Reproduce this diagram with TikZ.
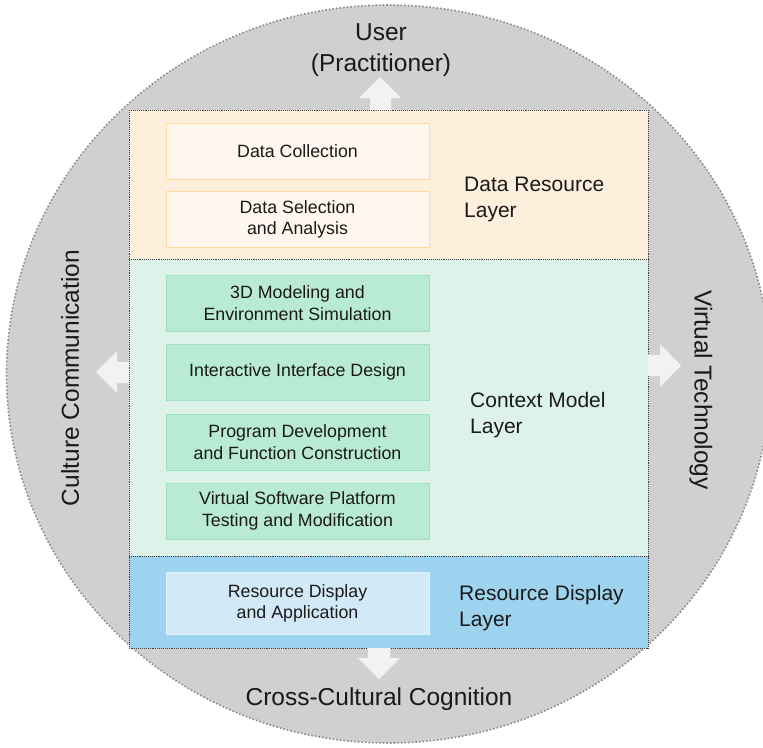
\documentclass[tikz,border=0pt]{standalone}
\usepackage{fontspec}
\setmainfont{Liberation Sans}
\begin{document}
\definecolor{ringgray}{HTML}{D0D0D0}
\definecolor{ringedge}{HTML}{8C8C8C}
\definecolor{arrowfill}{HTML}{F2F2F2}
\definecolor{datalayer}{HTML}{FEEFDC}
\definecolor{databox}{HTML}{FFF7EE}
\definecolor{dataedge}{HTML}{FFD9A0}
\definecolor{ctxlayer}{HTML}{DDF3EA}
\definecolor{ctxbox}{HTML}{B8EAD4}
\definecolor{ctxedge}{HTML}{9EE0C4}
\definecolor{displayer}{HTML}{9DD3EE}
\definecolor{dispbox}{HTML}{D2EAF8}
\definecolor{dispedge}{HTML}{E2F1FA}
\definecolor{inktext}{HTML}{1A1A1A}
\begin{tikzpicture}[x=1pt,y=-1pt,
  outerlabel/.style={font=\fontsize{24.5}{30.5}\selectfont, text=inktext, align=center, inner sep=0pt},
  layerlabel/.style={font=\fontsize{21}{26}\selectfont, text=inktext, align=left, anchor=west, inner sep=0pt},
  itembox/.style={minimum width=263pt, minimum height=56pt, inner sep=0pt, align=center,
     font=\fontsize{17.8}{21.7}\selectfont, text=inktext, line width=1pt},
  layerbox/.style={draw=black!75, densely dotted, line width=0.9pt},
  blockarrow/.style={fill=arrowfill, draw=none}]
\useasboundingbox (0,0) rectangle (763,747);
\begin{scope}
\clip (0,0) rectangle (763,747);
% outer ring
\fill[ringgray] (388.5,374) ellipse [x radius=382, y radius=369];
\draw[ringedge, dotted, line width=1.6pt] (388.5,374) ellipse [x radius=382, y radius=369];
\end{scope}

% layers
\fill[datalayer] (129,110) rectangle (648,259);
\fill[ctxlayer] (129,259) rectangle (648,556);
\fill[displayer] (129,556) rectangle (648,648);
\draw[layerbox] (129,110) rectangle (648,648);
\draw[layerbox] (129,259) -- (648,259);
\draw[layerbox] (129,556) -- (648,556);

% block arrows
\fill[blockarrow] (370,110) -- (370,98) -- (359,98) -- (380,77) -- (401,98) -- (391,98) -- (391,110) -- cycle;
\fill[blockarrow] (368,648) -- (368,658) -- (358,658) -- (379,679) -- (400,658) -- (390,658) -- (390,648) -- cycle;
\fill[blockarrow] (129,362) -- (117,362) -- (117,351) -- (96,372) -- (117,393) -- (117,383) -- (129,383) -- cycle;
\fill[blockarrow] (648,355) -- (660,355) -- (660,344) -- (681,365.5) -- (660,387) -- (660,376) -- (648,376) -- cycle;

% outer labels
\node[outerlabel] (user) at (381,50) {User\\(Practitioner)};
\node[outerlabel] (cognition) at (379,699) {Cross-Cultural Cognition};
\node[outerlabel, rotate=90] (culture) at (70,378) {Culture Communication};
\node[outerlabel, rotate=-90] (virtual) at (701,390) {Virtual Technology};

% data resource layer
\node[itembox, fill=databox, draw=dataedge] (collect) at (297.5,151.5) {Data Collection};
\node[itembox, fill=databox, draw=dataedge] (select) at (297.5,219.5) {Data Selection\\and Analysis};
\node[layerlabel] (datalbl) at (464,199) {Data Resource\\Layer};

% context model layer
\node[itembox, fill=ctxbox, draw=ctxedge] (model) at (297.5,303) {3D Modeling and\\Environment Simulation};
\node[itembox, fill=ctxbox, draw=ctxedge] (iface) at (297.5,372) {Interactive Interface Design};
\node[itembox, fill=ctxbox, draw=ctxedge] (prog) at (297.5,442) {Program Development\\and Function Construction};
\node[itembox, fill=ctxbox, draw=ctxedge] (test) at (297.5,511) {Virtual Software Platform\\Testing and Modification};
\node[layerlabel] (ctxlbl) at (470,415) {Context Model\\Layer};

% resource display layer
\node[itembox, minimum height=62pt, fill=dispbox, draw=dispedge] (display) at (297.5,603.5) {Resource Display\\and Application};
\node[layerlabel] (displbl) at (459,608) {Resource Display\\Layer};
\end{tikzpicture}
\end{document}
